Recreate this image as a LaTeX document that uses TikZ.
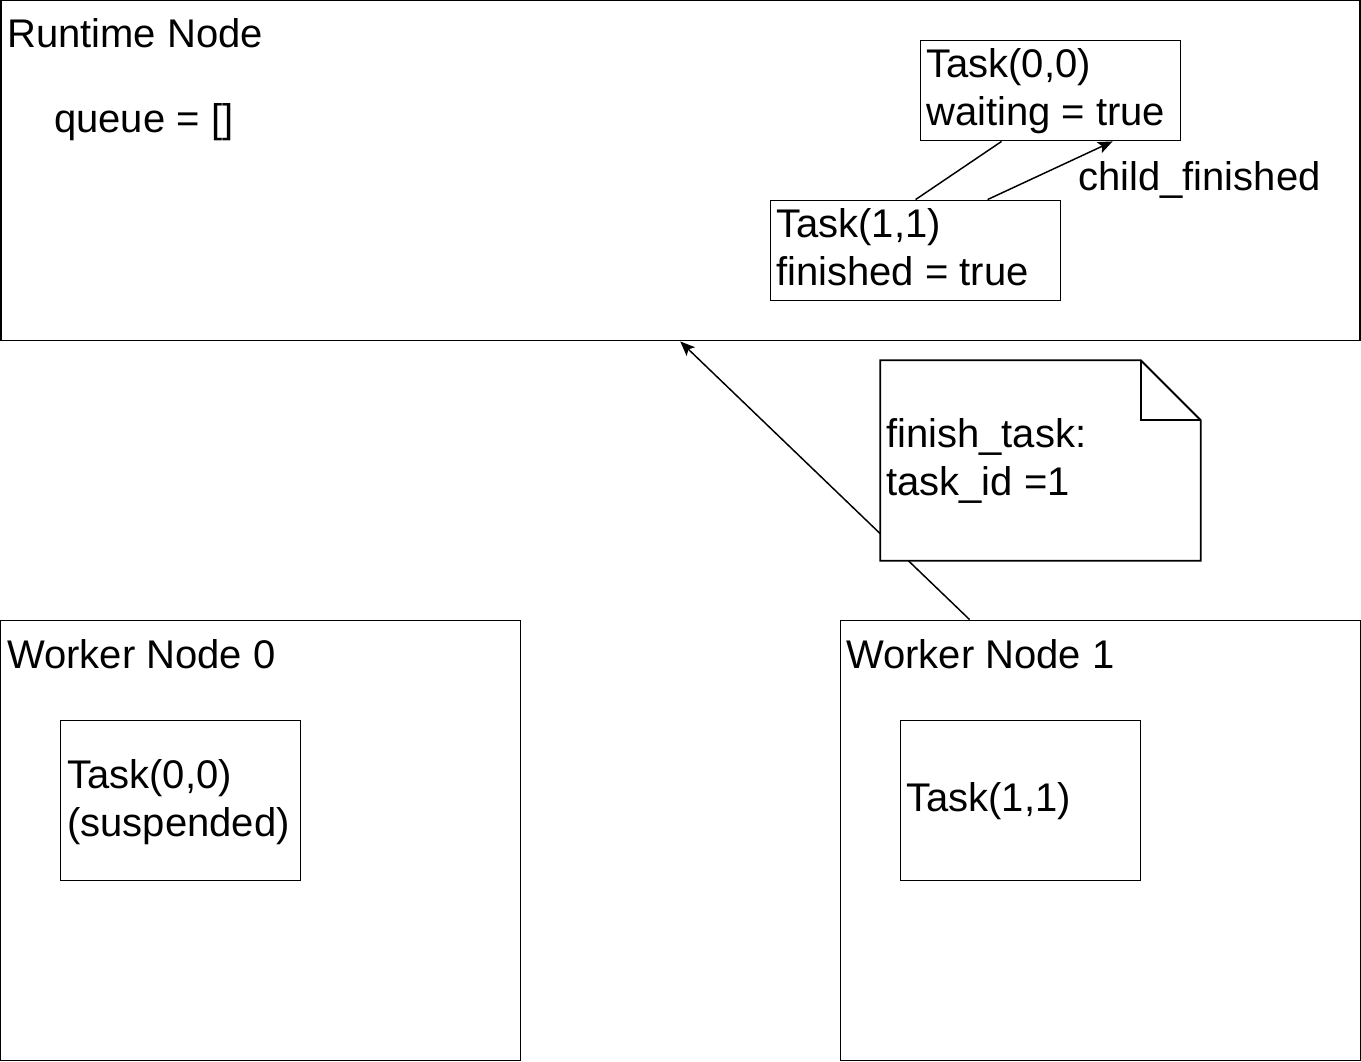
\documentclass[tikz,border=0pt]{standalone}
\usepackage{fontspec}
\setmainfont{Liberation Sans}
\usetikzlibrary{arrows.meta,calc}
\begin{document}
\begin{tikzpicture}[x=0.75pt,y=-0.75pt,
  every node/.style={font=\fontsize{30pt}{36pt}\selectfont},
  box/.style={draw,line width=1.4pt,rectangle,inner sep=0pt,fill=white},
  lbl/.style={inner sep=0pt,anchor=base west,align=left},
  conn/.style={line width=1.1pt},
  arr/.style={conn,-{Stealth[length=11pt,width=9pt,inset=2.5pt]}}]
\useasboundingbox (0,0) rectangle (1361,1062);

% runtime node and its tasks
\node[box,minimum width=1019pt,minimum height=255pt] (rt) at (680.5,170.5) {};
\node[lbl] (rtlbl) at (7,48) {Runtime Node};
\node[lbl] (queue) at (54,133) {queue = []};
\node[box,minimum width=195pt,minimum height=75pt] (t00) at (1050.5,90.5) {};
\node[lbl] (t00lbl) at (926,126) {Task(0,0)\\waiting = true};
\node[box,minimum width=217.5pt,minimum height=75pt] (t11) at (915.5,250.5) {};
\node[lbl] (t11lbl) at (776,286) {Task(1,1)\\finished = true};

% parent link and child_finished message
\draw[conn] ($(t11.north west)+(146,0)$) -- ($(t00.south west)+(82,0)$);
\draw[arr] ($(t11.north west)+(218,0)$) -- ($(t00.south west)+(193,0)$);
\node[lbl] (cf) at (1078,191) {child\_finished};

% worker nodes
\node[box,minimum width=390pt,minimum height=330pt] (w0) at (260.5,840.5) {};
\node[lbl] (w0lbl) at (7,668) {Worker Node 0};
\node[box,minimum width=180pt,minimum height=120pt] (w0t) at (180.5,800.5) {};
\node[lbl] (w0tlbl) at (67,836) {Task(0,0)\\(suspended)};
\node[box,minimum width=390pt,minimum height=330pt] (w1) at (1100.5,840.5) {};
\node[lbl] (w1lbl) at (846,668) {Worker Node 1};
\node[box,minimum width=180pt,minimum height=120pt] (w1t) at (1020.5,800.5) {};
\node[lbl] (w1tlbl) at (906,811) {Task(1,1)};

% finish_task message from worker 1 to the runtime
\draw[arr] ($(w1.north west)+(130,0)$) -- ($(rt.south west)+(680,0)$);

% note with folded corner
\node[minimum width=240pt,minimum height=150pt,inner sep=0pt] (note) at (1040.5,460.5) {};
\draw[line width=1.4pt,fill=white]
  (note.north west) -- ($(note.north east)+(-60,0)$) -- ($(note.north east)+(0,60)$)
  -- (note.south east) -- (note.south west) -- cycle;
\draw[line width=1.4pt]
  ($(note.north east)+(-60,0)$) -- ($(note.north east)+(-60,60)$) -- ($(note.north east)+(0,60)$);
\node[lbl] (notelbl) at (886,496) {finish\_task:\\task\_id =1};
\end{tikzpicture}
\end{document}
